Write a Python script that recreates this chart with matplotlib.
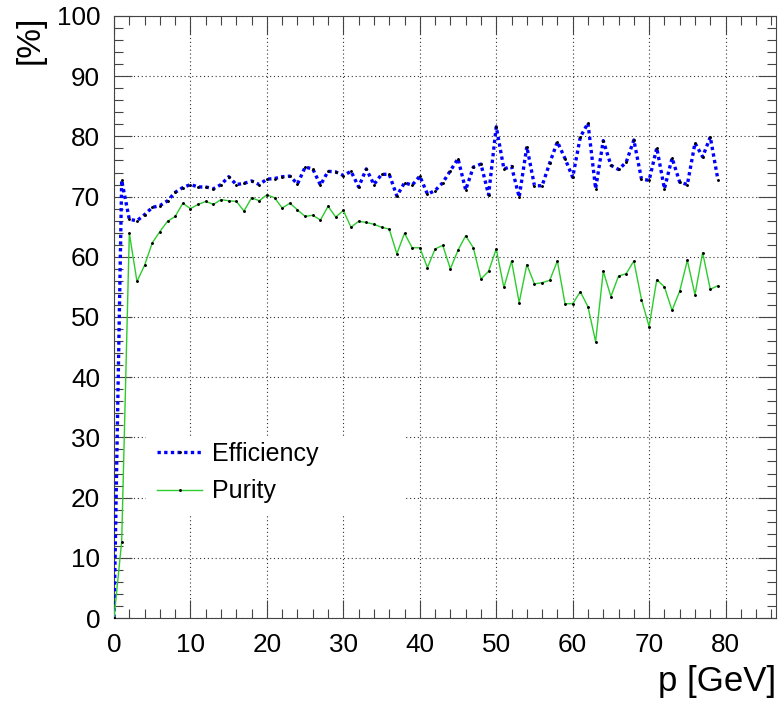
import matplotlib
matplotlib.use('Agg')
import matplotlib.pyplot as plt
from matplotlib.ticker import MultipleLocator
from matplotlib.patches import Rectangle

plt.rcParams['font.family'] = ['Liberation Sans', 'DejaVu Sans']

# momentum bins [GeV]
p = list(range(80))

efficiency = [0.0, 72.7, 66.2, 66.0, 67.0, 68.2, 68.5, 69.3, 70.7, 71.5,
              72.0, 71.6, 71.6, 71.3, 72.0, 73.3, 72.0, 72.2, 72.6, 72.0,
              72.9, 73.0, 73.3, 73.4, 72.1, 74.9, 74.6, 71.9, 74.2, 74.1,
              73.5, 74.2, 71.6, 74.6, 72.0, 73.7, 73.7, 70.1, 72.3, 71.9,
              73.4, 70.4, 71.0, 72.3, 74.3, 76.3, 71.1, 74.9, 75.4, 70.3,
              81.6, 74.6, 75.0, 69.9, 78.3, 71.8, 71.8, 75.6, 79.1, 76.3,
              73.2, 79.9, 82.2, 71.3, 79.3, 75.2, 74.5, 75.7, 79.4, 72.9,
              72.7, 78.1, 71.3, 76.4, 72.4, 72.0, 78.9, 76.6, 79.9, 72.8]

purity = [0.0, 12.7, 63.9, 55.9, 58.6, 62.3, 64.2, 65.9, 66.7, 68.9,
          68.0, 68.7, 69.2, 68.7, 69.5, 69.3, 69.2, 67.6, 69.8, 69.3,
          70.3, 69.8, 68.1, 68.9, 67.8, 66.7, 66.9, 66.1, 68.4, 66.6,
          67.7, 64.9, 65.9, 65.7, 65.4, 64.9, 64.6, 60.5, 63.9, 61.5,
          61.5, 58.2, 61.3, 61.9, 58.0, 61.1, 63.5, 61.5, 56.3, 57.6,
          61.3, 54.9, 59.3, 52.4, 58.7, 55.5, 55.7, 56.1, 59.3, 52.2,
          52.2, 54.2, 51.7, 45.9, 57.6, 53.4, 56.8, 57.2, 59.3, 52.9,
          48.4, 56.2, 55.0, 51.1, 54.3, 59.4, 53.7, 60.7, 54.6, 55.2]

fig = plt.figure(figsize=(7.8, 7.01), dpi=100)
ax = fig.add_axes([0.1462, 0.1184, 0.8487, 0.8588])

ax.plot(p, efficiency, color='#0000ff', linewidth=2.4, linestyle=(0, (1, 1)),
        marker='o', markersize=1.1, markerfacecolor='black',
        markeredgecolor='black', label='Efficiency', zorder=3)
ax.plot(p, purity, color='#2ccc2c', linewidth=1.0, linestyle='-',
        marker='o', markersize=1.1, markerfacecolor='black',
        markeredgecolor='black', label='Purity', zorder=3)

ax.set_xlim(0, 86.6)
ax.set_ylim(0, 100)
ax.xaxis.set_major_locator(MultipleLocator(10))
ax.xaxis.set_minor_locator(MultipleLocator(2))
ax.yaxis.set_major_locator(MultipleLocator(10))
ax.yaxis.set_minor_locator(MultipleLocator(2))

ax.set_axisbelow(True)
ax.grid(True, which='major', color='#333333', linestyle=(0, (1, 2.5)), linewidth=0.8)

ax.tick_params(which='both', direction='in', top=True, right=True,
               width=0.8, color='#444444')
ax.tick_params(which='major', length=13, labelsize=18.8, pad=10)
ax.tick_params(axis='x', which='major', pad=11)
ax.tick_params(which='minor', length=6.5)
for s in ax.spines.values():
    s.set_linewidth(0.8)
    s.set_color('#444444')

ax.set_xlabel('p [GeV]', fontsize=25, loc='right')
ax.xaxis.set_label_coords(1.0, -0.078)
ax.set_ylabel('[%]', fontsize=24, loc='top')
ax.yaxis.set_label_coords(-0.104, 1.0)

# white legend box hiding the grid behind it
ax.add_patch(Rectangle((0.048, 0.171), 0.392, 0.131, transform=ax.transAxes,
                       facecolor='white', edgecolor='none', zorder=1))
ax.legend(loc='upper left', bbox_to_anchor=(0.065, 0.293), frameon=False,
          fontsize=18, handlelength=1.8, handletextpad=0.4,
          borderpad=0, borderaxespad=0, labelspacing=0.55)

plt.savefig('out.png', dpi=100)
